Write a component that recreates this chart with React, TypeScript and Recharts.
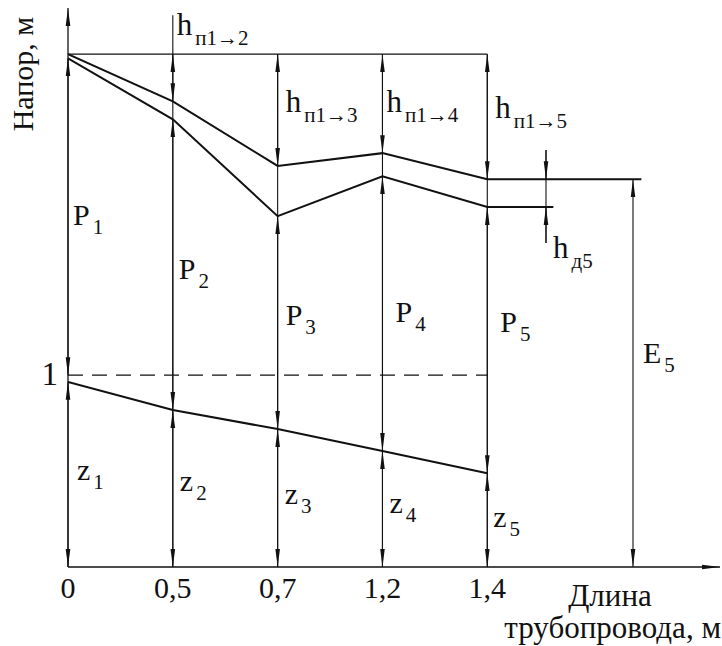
import { ComposedChart, Line, XAxis, YAxis, ReferenceLine } from "recharts";

// stations along the pipe (drawn at equal spacing, labelled with length)
const lengthLabels = ["0", "0,5", "0,7", "1,2", "1,4"];
const stations = [0, 1, 2, 3, 4];

// heads, m (schematic)
const totalHead = [10.0, 9.08, 7.82, 8.07, 7.56];
const pressureHead = [9.92, 8.73, 6.84, 7.62, 7.02];
const pipeAxis = [3.61, 3.06, 2.69, 2.26, 1.83];
const initialHead = 10.0;
const datumLevel = 3.74;

// outlet part of the scheme
const lossX = 4.56;
const outletX = 5.39;
const energyTailX = 5.47;
const pressureTailX = 4.63;
const xMax = 6.22;
const yMax = 10.9;

const W = 722;
const H = 646;
const MARGIN = { top: 8, right: 2, bottom: 0, left: 68 };
const AXIS_H = 79;
const INK = "#111";
const SERIF = "Liberation Serif";

const energyRows = [...stations.map((x, i) => ({ x, y: totalHead[i] })), { x: energyTailX, y: totalHead[4] }];
const pressureRows = [...stations.map((x, i) => ({ x, y: pressureHead[i] })), { x: pressureTailX, y: pressureHead[4] }];
const axisRows = stations.map((x, i) => ({ x, y: pipeAxis[i] }));
const topRows = [{ x: 0, y: initialHead }, { x: stations[4], y: initialHead }];
const datumRows = [{ x: 0, y: datumLevel }, { x: stations[4], y: datumLevel }];

// same mapping as the chart's axes, used only to anchor the text overlay
const plotW = W - MARGIN.left - MARGIN.right;
const plotBottom = H - MARGIN.bottom - AXIS_H;
const plotH = plotBottom - MARGIN.top;
const px = (x: number) => MARGIN.left + (x / xMax) * plotW;
const py = (y: number) => plotBottom - (y / yMax) * plotH;

function seg(key: string, x: number, y1: number, y2: number, start: boolean, end: boolean, width = 1.1) {
  return (
    <ReferenceLine
      key={key}
      segment={[{ x, y: y1 }, { x, y: y2 }]}
      ifOverflow="visible"
      shape={(p: any) => (
        <line
          x1={p.x1}
          y1={p.y1}
          x2={p.x2}
          y2={p.y2}
          stroke={INK}
          strokeWidth={width}
          markerStart={start ? "url(#tip)" : undefined}
          markerEnd={end ? "url(#tip)" : undefined}
        />
      )}
    />
  );
}

function Txt(props: any) {
  const { children, size = 30, ...rest } = props;
  return (
    <text {...rest} fontSize={size} fill={INK} style={{ fontFamily: SERIF }}>
      {children}
    </text>
  );
}

function note(key: string, x: number, y: number, dx: number, dy: number, main: string, sub: string, subSize = 21, subDy = 9, size = 30) {
  return (
    <Txt key={key} x={px(x) + dx} y={py(y) + dy} size={size}>
      {main}
      <tspan dx={3} dy={subDy} fontSize={subSize}>
        {sub}
      </tspan>
    </Txt>
  );
}

export default function App() {
  const dims: any[] = [];
  // station 1 (x = 0)
  dims.push(seg("p0", 0, pressureHead[0], datumLevel, true, true));
  dims.push(seg("z0", 0, pipeAxis[0], 0, true, true));
  for (let i = 1; i < stations.length; i++) {
    const x = stations[i];
    dims.push(seg(`v${i}`, x, i === 1 ? initialHead + 0.76 : initialHead, 0, false, false));
    dims.push(seg(`h${i}`, x, initialHead, totalHead[i], true, true));
    dims.push(seg(`p${i}`, x, pressureHead[i], pipeAxis[i], true, true));
    dims.push(seg(`z${i}`, x, pipeAxis[i], 0, true, true));
  }
  const e5 = totalHead[4];
  const p5 = pressureHead[4];

  return (
    <div style={{ position: "absolute", left: 0, top: 0, width: W, height: H, background: "#fff" }}>
      <ComposedChart width={W} height={H} margin={MARGIN}>
        <defs>
          <marker
            id="tip"
            viewBox="0 0 18 6"
            refX="18"
            refY="3"
            markerWidth="18"
            markerHeight="6"
            markerUnits="userSpaceOnUse"
            orient="auto-start-reverse"
          >
            <path d="M0,0.7 L18,3 L0,5.3 Z" fill={INK} />
          </marker>
        </defs>
        <XAxis
          type="number"
          dataKey="x"
          domain={[0, xMax]}
          ticks={stations}
          interval={0}
          axisLine={false}
          tickLine={false}
          tick={false}
          height={AXIS_H}
          allowDataOverflow
        />
        <YAxis type="number" domain={[0, yMax]} hide allowDataOverflow />

        <ReferenceLine
          segment={[{ x: 0, y: 0 }, { x: xMax, y: 0 }]}
          ifOverflow="visible"
          shape={(p: any) => <line x1={p.x1} y1={p.y1} x2={p.x2} y2={p.y2} stroke={INK} strokeWidth={1.5} markerEnd="url(#tip)" />}
        />
        <ReferenceLine
          segment={[{ x: 0, y: 0 }, { x: 0, y: yMax }]}
          ifOverflow="visible"
          shape={(p: any) => <line x1={p.x1} y1={p.y1} x2={p.x2} y2={p.y2} stroke={INK} strokeWidth={1.3} markerEnd="url(#tip)" />}
        />

        {dims}
        {seg("hd-line", lossX, e5 + 0.57, p5 - 0.7, false, false)}
        {seg("hd-top", lossX, e5 + 0.57, e5, false, true)}
        {seg("hd-bot", lossX, p5 - 0.7, p5, false, true)}
        {seg("E5", outletX, e5, 0, true, true)}

        <Line data={topRows} dataKey="y" stroke={INK} strokeWidth={1.3} dot={false} activeDot={false} isAnimationActive={false} type="linear" />
        <Line data={datumRows} dataKey="y" stroke={INK} strokeWidth={1.2} strokeDasharray="15 9" dot={false} activeDot={false} isAnimationActive={false} type="linear" />
        <Line data={energyRows} dataKey="y" stroke={INK} strokeWidth={2} dot={false} activeDot={false} isAnimationActive={false} type="linear" />
        <Line data={pressureRows} dataKey="y" stroke={INK} strokeWidth={2} dot={false} activeDot={false} isAnimationActive={false} type="linear" />
        <Line data={axisRows} dataKey="y" stroke={INK} strokeWidth={2} dot={false} activeDot={false} isAnimationActive={false} type="linear" />
      </ComposedChart>

      {/* text overlay in its own svg */}
      <svg width={W} height={H} style={{ position: "absolute", left: 0, top: 0, pointerEvents: "none" }}>
        {stations.map((s, i) => (
          <Txt key={`t${i}`} x={px(s)} y={py(0) + 31} textAnchor="middle">
            {lengthLabels[i]}
          </Txt>
        ))}

        {note("P1", 0, (pressureHead[0] + datumLevel) / 2, 5, 8, "P", "1")}
        {note("P2", 1, (pressureHead[1] + pipeAxis[1]) / 2, 6, 14, "P", "2")}
        {note("P3", 2, (pressureHead[2] + pipeAxis[2]) / 2, 8, 2, "P", "3")}
        {note("P4", 3, (pressureHead[3] + pipeAxis[3]) / 2, 13, 8, "P", "4")}
        {note("P5", 4, (pressureHead[4] + pipeAxis[4]) / 2, 13, -8, "P", "5")}
        {note("z1", 0, pipeAxis[0] / 2, 9, 6, "z", "1")}
        {note("z2", 1, pipeAxis[1] / 2, 7, 2, "z", "2")}
        {note("z3", 2, pipeAxis[2] / 2, 7, 6, "z", "3")}
        {note("z4", 3, pipeAxis[3] / 2, 7, 4, "z", "4")}
        {note("z5", 4, pipeAxis[4] / 2, 6, 7, "z", "5")}
        {note("h2", 1, initialHead, 4, -19, "h", "п1→2", 21, 10, 31)}
        {note("h3", 2, (initialHead + totalHead[2]) / 2, 8, 2, "h", "п1→3", 21, 10, 31)}
        {note("h4", 3, (initialHead + totalHead[3]) / 2, 4, 8, "h", "п1→4", 21, 10, 31)}
        {note("h5", 4, (initialHead + totalHead[4]) / 2, 8, 1, "h", "п1→5", 21, 10, 31)}
        {note("hd5", lossX, p5, 7, 51, "h", "д5", 21, 10, 31)}
        {note("E5", outletX, e5 / 2, 10, -10, "E", "5")}

        <Txt x={px(0) - 10} y={py(datumLevel) + 10} textAnchor="end" size={33}>
          1
        </Txt>
        <Txt x={px(0) - 35} y={py(yMax) + 66} transform={`rotate(-90 ${px(0) - 35} ${py(yMax) + 66})`} textAnchor="middle">
          Напор, м
        </Txt>
        <Txt x={px(xMax) - 110} y={py(0) + 39} textAnchor="middle" size={31}>
          Длина
        </Txt>
        <Txt x={px(xMax) + 1} y={py(0) + 71} textAnchor="end" size={31}>
          трубопровода, м
        </Txt>
      </svg>
    </div>
  );
}
